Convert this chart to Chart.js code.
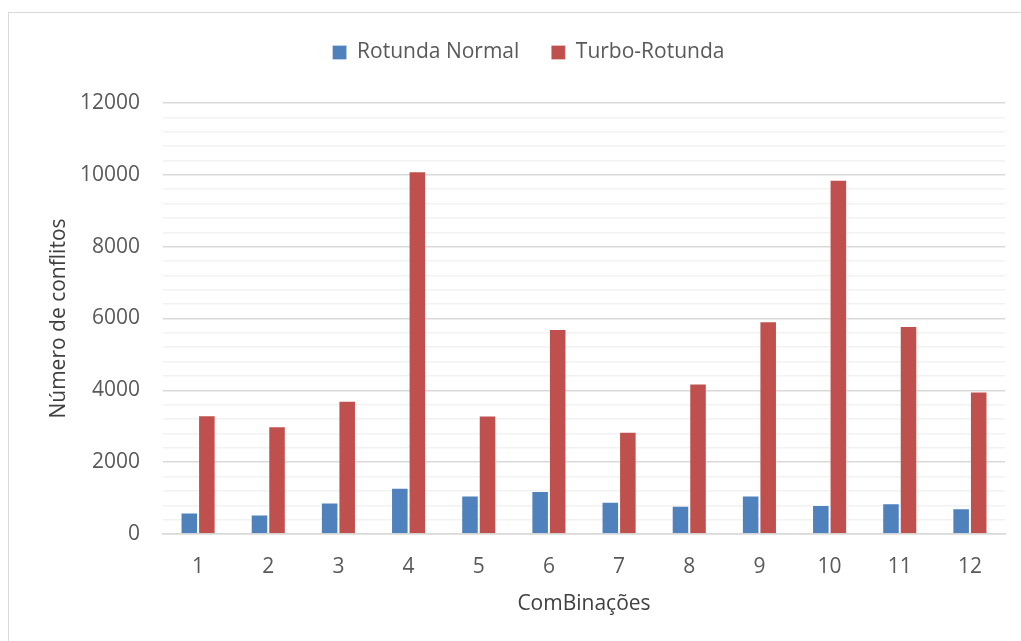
<!DOCTYPE html>
<html>
<head>
<meta charset="utf-8">
<script src="https://cdn.jsdelivr.net/npm/chart.js@4.4.1/dist/chart.umd.min.js"></script>
<style>
  html, body { margin: 0; padding: 0; background: #ffffff; }
  #wrap { position: relative; width: 1021px; height: 641px; overflow: hidden; }
  #frame { position: absolute; left: 8px; top: 12px; width: 1030px; height: 650px; border: 1px solid #D9D9D9; box-sizing: border-box; }
  #chart { position: absolute; left: 0; top: 0; }
</style>
</head>
<body>
<div id="wrap">
  <div id="frame"></div>
  <canvas id="chart" width="1021" height="641"></canvas>
</div>
<script>
// Conflict counts per combination, for the two roundabout layouts
const combinacoes = ['1', '2', '3', '4', '5', '6', '7', '8', '9', '10', '11', '12'];
const rotundaNormal = [600, 540, 875, 1290, 1070, 1200, 900, 790, 1075, 805, 855, 715];
const turboRotunda = [3305, 3000, 3710, 10100, 3300, 5705, 2850, 4190, 5920, 9865, 5790, 3965];
const yMax = 12000;
const yStep = 400;      // minor gridline spacing
const yLabelStep = 2000; // labelled gridlines

const FONT = '"Open Sans", "Noto Sans", sans-serif';

// Extra room under the legend, and the legend nudged right over the plot
const legendTweak = {
  id: 'legendTweak',
  afterInit(chart) {
    const lg = chart.legend;
    if (lg && !lg._gapPatched) {
      const fit = lg.fit.bind(lg);
      lg.fit = function () { fit(); this.height += 30; };
      lg._gapPatched = true;
    }
  },
  afterLayout(chart) {
    const lg = chart.legend;
    if (lg) { lg.left += 26; lg.right += 26; }
  }
};

new Chart(document.getElementById('chart'), {
  type: 'bar',
  data: {
    labels: combinacoes,
    datasets: [
      {
        label: 'Rotunda Normal',
        data: rotundaNormal,
        backgroundColor: '#4F81BD',
        borderColor: 'rgba(255,255,255,0.25)',
        borderWidth: 1,
        categoryPercentage: 0.5,
        barPercentage: 1.0
      },
      {
        label: 'Turbo-Rotunda',
        data: turboRotunda,
        backgroundColor: '#C0504D',
        borderColor: 'rgba(255,255,255,0.25)',
        borderWidth: 1,
        categoryPercentage: 0.5,
        barPercentage: 1.0
      }
    ]
  },
  options: {
    responsive: false,
    animation: false,
    layout: { padding: { top: 10, right: 16, bottom: 0, left: 0 } },
    plugins: {
      legend: {
        position: 'top',
        labels: {
          boxWidth: 14,
          boxHeight: 14,
          padding: 32,
          color: '#595959',
          font: { family: FONT, size: 21 }
        }
      },
      tooltip: { enabled: false }
    },
    scales: {
      x: {
        grid: { display: false, drawTicks: false },
        border: { display: true, color: '#D9D9D9', width: 1.5 },
        ticks: {
          color: '#595959',
          padding: 20,
          font: { family: FONT, size: 21 }
        },
        title: {
          display: true,
          text: 'ComBinações',
          color: '#404040',
          padding: { top: 0, bottom: 24 },
          font: { family: FONT, size: 21 }
        },
        afterFit(scale) { scale.height = 107; }
      },
      y: {
        min: 0,
        max: yMax,
        border: { display: false },
        grid: {
          drawTicks: false,
          color: (ctx) => (ctx.tick && ctx.tick.value % yLabelStep === 0) ? '#D9D9D9' : '#F2F2F2',
          lineWidth: 1.5
        },
        ticks: {
          stepSize: yStep,
          autoSkip: false,
          padding: 23,
          color: '#595959',
          font: { family: FONT, size: 21 },
          callback: (v) => (v % yLabelStep === 0 ? String(v) : '')
        },
        title: {
          display: true,
          text: 'Número de conflitos',
          color: '#404040',
          padding: { top: 46, bottom: 0 },
          font: { family: FONT, size: 21 }
        },
        afterFit(scale) { scale.width = 163; }
      }
    }
  },
  plugins: [legendTweak]
});
</script>
</body>
</html>
